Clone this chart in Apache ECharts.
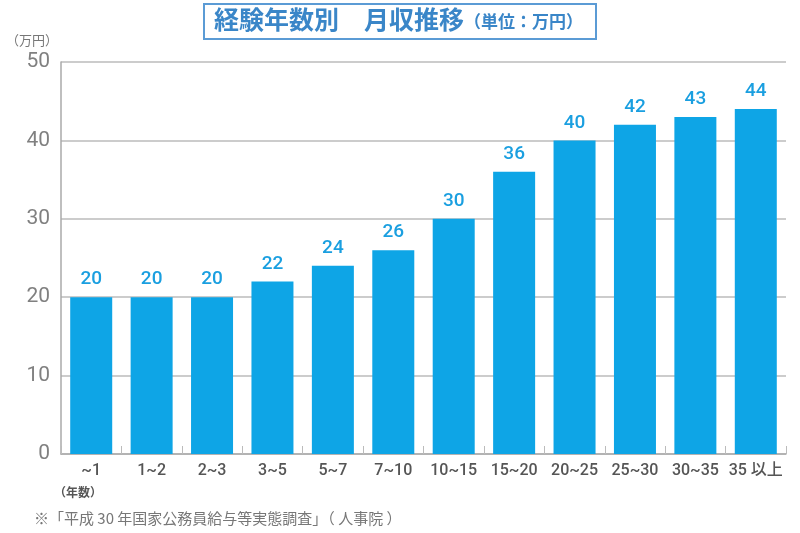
<!DOCTYPE html>
<html><head><meta charset="utf-8">
<script src="https://cdn.jsdelivr.net/npm/echarts@6/dist/echarts.min.js"></script>
<style>html,body{margin:0;padding:0;background:#fff}#c{width:800px;height:533px}</style>
</head><body><div id="c"></div>
<script>
const categories = ['~1','1~2','2~3','3~5','5~7','7~10','10~15','15~20','20~25','25~30','30~35','35 以上'];
const salary = [20,20,20,22,24,26,30,36,40,42,43,44];
const yTicks = {min:0, max:50, interval:10};

const chart = echarts.init(document.getElementById('c'));
const jp = '"Noto Sans CJK JP", sans-serif';
chart.setOption({
  animation:false,
  grid:{left:61, right:14, top:62, bottom:79},
  graphic:[
    {type:'rect', shape:{x:204, y:4, width:392, height:35}, style:{fill:'#fff', stroke:'#5b9bd5', lineWidth:2}},
    {type:'text', left:214, top:7, style:{
      text:'{a|経験年数別　月収推移}{b|（単位：万円）}',
      rich:{
        a:{fontSize:25, fontWeight:'bold', fill:'#3a86c8', fontFamily:jp},
        b:{fontSize:17, fontWeight:'bold', fill:'#3a86c8', fontFamily:jp, padding:[4,0,0,0]}
      }}},
    {type:'text', left:6, top:34, style:{text:'（万円）', fontSize:13, fill:'#777', fontFamily:jp}},
    {type:'text', left:54, top:486, style:{text:'（年数）', fontSize:12, fontWeight:'bold', fill:'#555', fontFamily:jp}},
    {type:'text', left:34, top:511, style:{text:'※「平成 30 年国家公務員給与等実態調査」（ 人事院 ）', fontSize:15, fill:'#777', fontFamily:jp}}
  ],
  xAxis:{
    type:'category', data:categories,
    axisLine:{lineStyle:{color:'#aaa', width:1.5}},
    axisTick:{show:true, inside:true, length:8, lineStyle:{color:'#bbb'}},
    axisLabel:{interval:0, color:'#555', fontSize:16, fontWeight:500, fontFamily:'Roboto, '+jp, margin:9}
  },
  yAxis:{
    type:'value', min:yTicks.min, max:yTicks.max, interval:yTicks.interval,
    axisLine:{show:true, lineStyle:{color:'#aaa', width:1.5}},
    axisTick:{show:false},
    splitLine:{lineStyle:{color:'#bbb', width:1.5}},
    axisLabel:{color:'#808080', fontSize:21, fontFamily:'Roboto', margin:11}
  },
  series:[{
    type:'bar', data:salary, barWidth:42,
    itemStyle:{color:'#0ea5e6'},
    label:{show:true, position:'top', distance:8, color:'#1a9fe0', fontSize:19, fontWeight:500, fontFamily:'Roboto'}
  }]
});
</script></body></html>
